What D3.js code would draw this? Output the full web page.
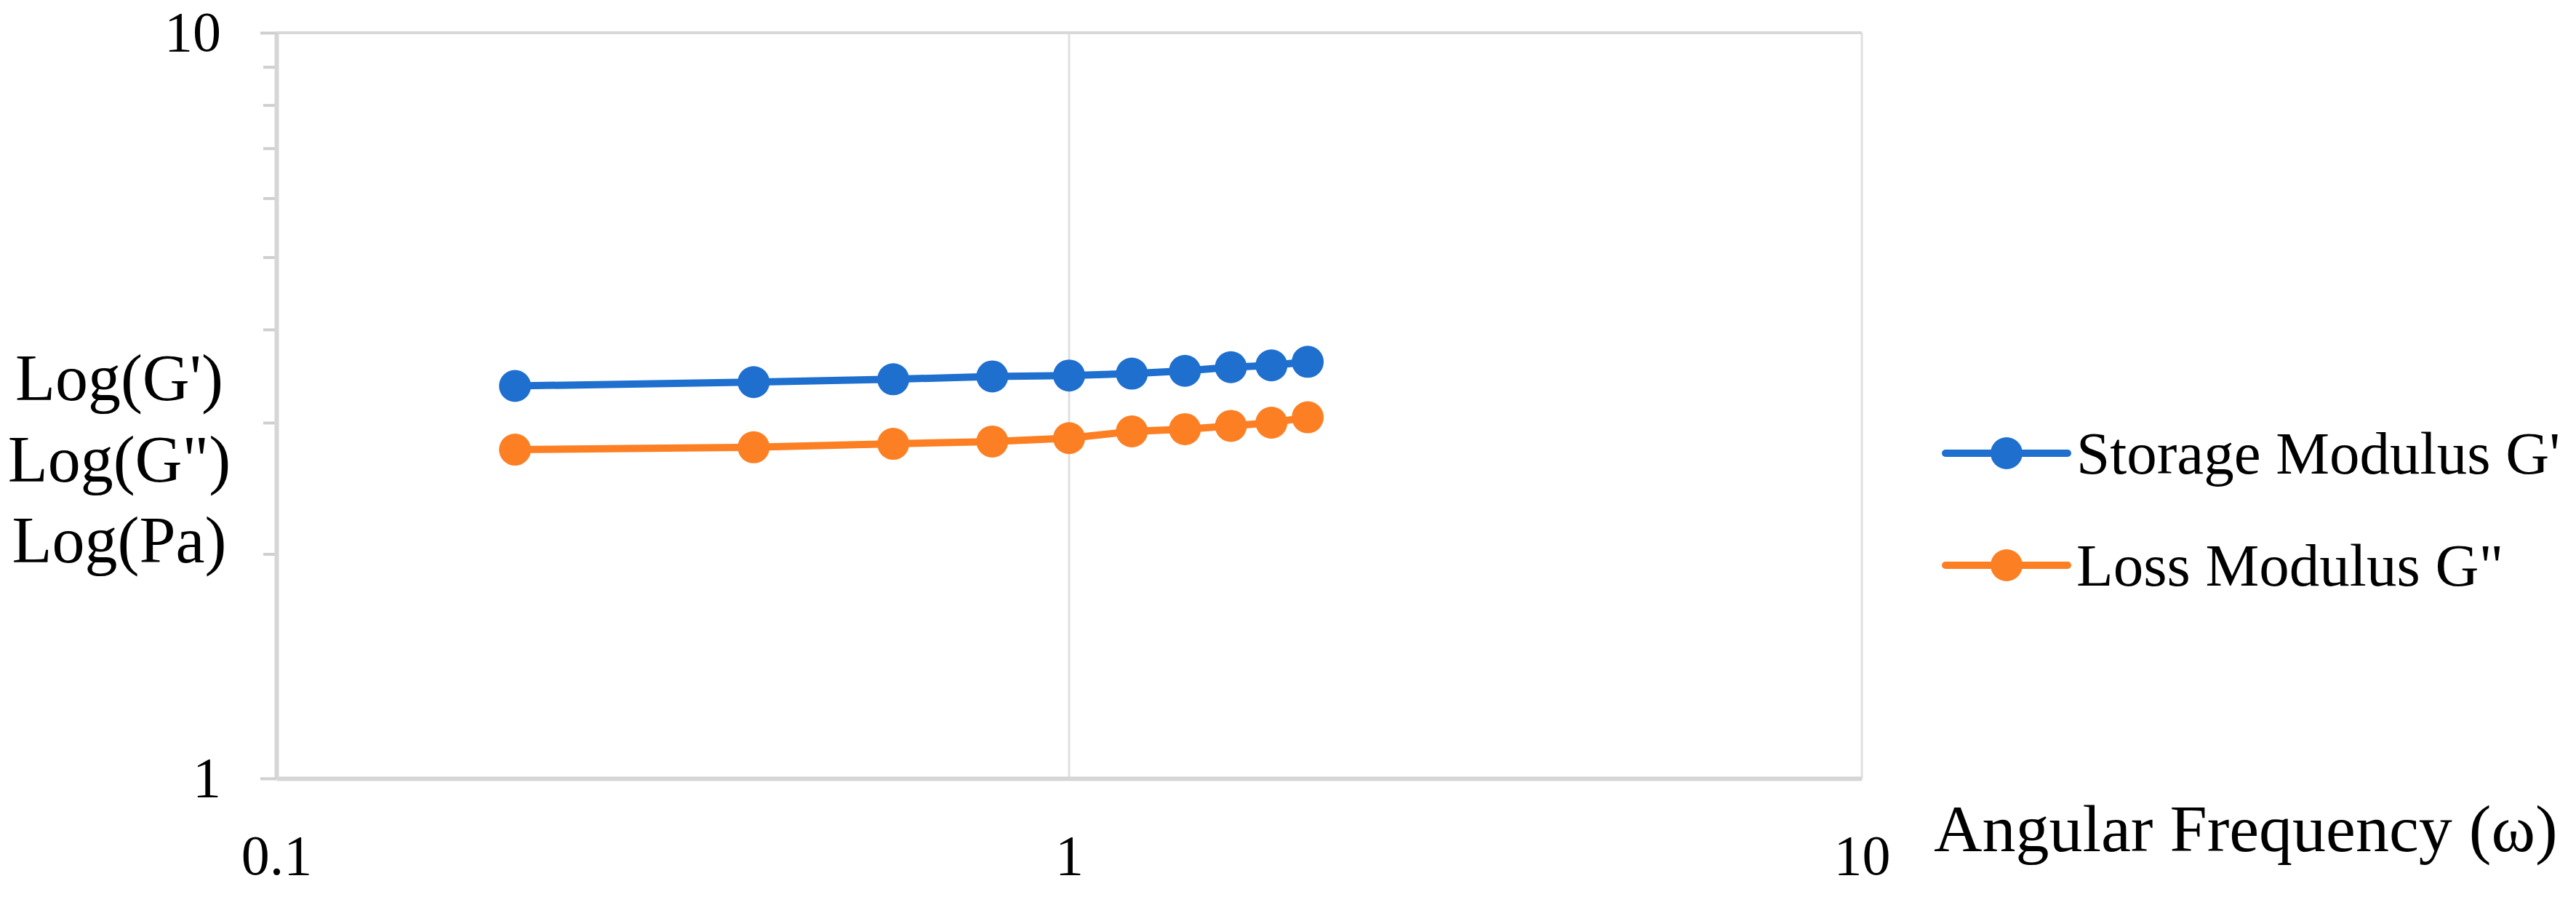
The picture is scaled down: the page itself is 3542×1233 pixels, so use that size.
<!DOCTYPE html>
<html>
<head>
<meta charset="utf-8">
<script src="https://cdn.jsdelivr.net/npm/d3@7"></script>
<style>
  body { margin: 0; background: #fff; }
  text { font-family: "Liberation Serif", "Times New Roman", serif; fill: #000; }
</style>
</head>
<body>
<div id="chart"></div>
<script>
// data
var frequency = [0.2, 0.4, 0.6, 0.8, 1.0, 1.2, 1.4, 1.6, 1.8, 2.0];
var storageModulus = [3.36, 3.40, 3.43, 3.46, 3.47, 3.49, 3.52, 3.56, 3.58, 3.62];
var lossModulus = [2.76, 2.78, 2.81, 2.83, 2.86, 2.92, 2.94, 2.97, 3.00, 3.05];
var seriesNames = ["Storage Modulus G'", "Loss Modulus G\""];
var seriesColors = ["#1f6fcf", "#fd7f23"];
var xTicks = [0.1, 1, 10];
var yTicks = [1, 10];
var yMinorTicks = [2, 3, 4, 5, 6, 7, 8, 9];
var yLabelLines = ["Log(G')", "Log(G\")", "Log(Pa)"];
var xLabel = "Angular Frequency (\u03c9)";

var svgWidth = 3542;
var svgHeight = 1233;

var margin = {
  top: 45,
  right: 982,
  bottom: 163,
  left: 380
};

var chartWidth = svgWidth - margin.left - margin.right;
var chartHeight = svgHeight - margin.top - margin.bottom;

var svg = d3.select("#chart")
  .append("svg")
  .attr("width", svgWidth)
  .attr("height", svgHeight);

var chartGroup = svg.append("g")
  .attr("transform", `translate(${margin.left}, ${margin.top})`);

var xLogScale = d3.scaleLog()
  .domain([0.1, 10])
  .range([0, chartWidth]);

var yLogScale = d3.scaleLog()
  .domain([1, 10])
  .range([chartHeight, 0]);

// gridlines (x = 1, 10 and y = 10)
chartGroup.selectAll(".xgrid")
  .data([1, 10])
  .enter()
  .append("line")
  .attr("x1", d => xLogScale(d))
  .attr("x2", d => xLogScale(d))
  .attr("y1", 0)
  .attr("y2", chartHeight)
  .attr("stroke", "#e0e0e0")
  .attr("stroke-width", 3);

chartGroup.selectAll(".ygrid")
  .data([10])
  .enter()
  .append("line")
  .attr("x1", 0)
  .attr("x2", chartWidth)
  .attr("y1", d => yLogScale(d))
  .attr("y2", d => yLogScale(d))
  .attr("stroke", "#d8d8d8")
  .attr("stroke-width", 4);

// minor ticks on left axis
var minorAxis = chartGroup.append("g")
  .call(d3.axisLeft(yLogScale).tickValues(yMinorTicks).tickSize(18).tickSizeOuter(0).tickFormat(""));
minorAxis.select(".domain").remove();
minorAxis.selectAll("line").attr("stroke", "#cfcfcf").attr("stroke-width", 4);

// left axis
var leftAxis = chartGroup.append("g")
  .call(d3.axisLeft(yLogScale)
    .tickValues(yTicks)
    .tickSize(22)
    .tickSizeOuter(0)
    .tickPadding(54)
    .tickFormat(d3.format("d")));
leftAxis.select(".domain").attr("stroke", "#d6d6d6").attr("stroke-width", 6);
leftAxis.selectAll("line").attr("stroke", "#cfcfcf").attr("stroke-width", 4);
leftAxis.selectAll("text")
  .style("font-size", "78px")
  .style("font-family", "'Liberation Serif', serif")
  .attr("fill", "#000");

// bottom axis
var bottomAxis = chartGroup.append("g")
  .attr("transform", `translate(0, ${chartHeight})`)
  .call(d3.axisBottom(xLogScale)
    .tickValues(xTicks)
    .tickSize(0)
    .tickSizeOuter(0)
    .tickPadding(77)
    .tickFormat(d => String(d)));
bottomAxis.select(".domain").attr("stroke", "#d6d6d6").attr("stroke-width", 6);
bottomAxis.selectAll("text")
  .style("font-size", "78px")
  .style("font-family", "'Liberation Serif', serif")
  .attr("fill", "#000");

// series
var series = [storageModulus, lossModulus];

var drawLine = d3.line()
  .x((d, i) => xLogScale(frequency[i]))
  .y(d => yLogScale(d));

series.forEach(function(values, s) {
  chartGroup.append("path")
    .datum(values)
    .attr("d", drawLine)
    .attr("fill", "none")
    .attr("stroke", seriesColors[s])
    .attr("stroke-width", 10)
    .attr("stroke-linecap", "round");

  chartGroup.selectAll(".pt" + s)
    .data(values)
    .enter()
    .append("circle")
    .attr("cx", (d, i) => xLogScale(frequency[i]))
    .attr("cy", d => yLogScale(d))
    .attr("r", 22)
    .attr("fill", seriesColors[s]);
});

// y label, three lines
var yLabel = svg.append("text")
  .attr("text-anchor", "middle")
  .style("font-size", "90px");
yLabelLines.forEach(function(line, i) {
  yLabel.append("tspan")
    .attr("x", 164)
    .attr("y", 550 + i * 111.5)
    .text(line);
});

// x label
svg.append("text")
  .attr("x", 2659)
  .attr("y", 1170)
  .style("font-size", "92px")
  .text(xLabel);

// legend
var legend = svg.append("g")
  .attr("transform", "translate(2675, 623)");

seriesNames.forEach(function(name, i) {
  var row = legend.append("g")
    .attr("transform", `translate(0, ${i * 154})`);
  row.append("line")
    .attr("x1", 0)
    .attr("x2", 168)
    .attr("y1", 0)
    .attr("y2", 0)
    .attr("stroke", seriesColors[i])
    .attr("stroke-width", 10)
    .attr("stroke-linecap", "round");
  row.append("circle")
    .attr("cx", 84)
    .attr("cy", 0)
    .attr("r", 22)
    .attr("fill", seriesColors[i]);
  row.append("text")
    .attr("x", 180)
    .attr("y", 28)
    .style("font-size", "83px")
    .text(name);
});
</script>
</body>
</html>
